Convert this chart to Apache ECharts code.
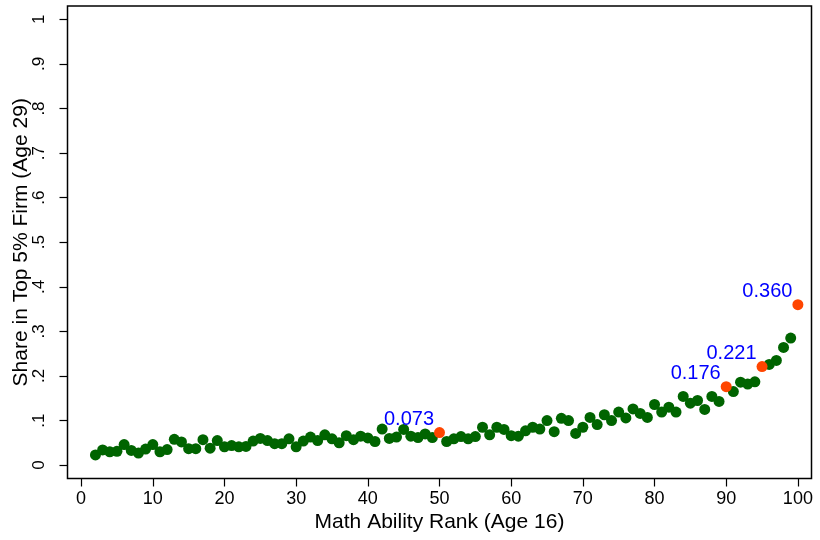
<!DOCTYPE html>
<html>

<head>
    <meta charset="utf-8">
    <title>Share in Top 5% Firm by Math Ability Rank</title>
    <style>
        html, body { margin: 0; padding: 0; background: #fff; }
        #chart-container {
            width: 820px;
            height: 540px;
        }
    </style>
    <script src="https://cdn.jsdelivr.net/npm/echarts@6/dist/echarts.min.js"></script>
</head>

<body>
    <div id="chart-container"></div>
    <script>
        // math ability rank (age 16), one dot per rank
        const ranks = [
            2, 3, 4, 5, 6, 7, 8, 9, 10, 11, 12, 13, 14, 15, 16, 17, 18, 19, 20, 21,
            22, 23, 24, 25, 26, 27, 28, 29, 30, 31, 32, 33, 34, 35, 36, 37, 38, 39, 40, 41,
            42, 43, 44, 45, 46, 47, 48, 49, 50, 51, 52, 53, 54, 55, 56, 57, 58, 59, 60, 61,
            62, 63, 64, 65, 66, 67, 68, 69, 70, 71, 72, 73, 74, 75, 76, 77, 78, 79, 80, 81,
            82, 83, 84, 85, 86, 87, 88, 89, 90, 91, 92, 93, 94, 95, 96, 97, 98, 99, 100
        ];
        // share working in a top 5% firm at age 29
        const shares = [
            0.023, 0.034, 0.030, 0.031, 0.046, 0.033, 0.027, 0.036, 0.046, 0.030,
            0.035, 0.058, 0.052, 0.037, 0.037, 0.057, 0.038, 0.055, 0.041, 0.044,
            0.041, 0.042, 0.054, 0.060, 0.055, 0.048, 0.048, 0.059, 0.041, 0.054,
            0.063, 0.055, 0.068, 0.059, 0.050, 0.066, 0.057, 0.065, 0.061, 0.053,
            0.081, 0.060, 0.063, 0.080, 0.065, 0.062, 0.070, 0.062, 0.073, 0.053,
            0.059, 0.064, 0.059, 0.064, 0.085, 0.068, 0.085, 0.080, 0.066, 0.065,
            0.077, 0.085, 0.081, 0.100, 0.075, 0.105, 0.100, 0.071, 0.085, 0.107,
            0.091, 0.113, 0.100, 0.119, 0.106, 0.126, 0.116, 0.107, 0.136, 0.119,
            0.130, 0.119, 0.154, 0.139, 0.145, 0.125, 0.154, 0.143, 0.176, 0.165,
            0.186, 0.182, 0.187, 0.221, 0.226, 0.235, 0.264, 0.285, 0.360
        ];
        // ranks marked in orange with their value written next to them
        const highlightRanks = [50, 90, 95, 100];

        const xTicks = [0, 10, 20, 30, 40, 50, 60, 70, 80, 90, 100];
        const yTicks = [0, 0.1, 0.2, 0.3, 0.4, 0.5, 0.6, 0.7, 0.8, 0.9, 1];

        const baseData = [];
        const highData = [];
        for (let i = 0; i < ranks.length; i++) {
            if (highlightRanks.includes(ranks[i])) {
                highData.push([ranks[i], shares[i]]);
            } else {
                baseData.push([ranks[i], shares[i]]);
            }
        }

        var dom = document.getElementById('chart-container');
        var myChart = echarts.init(dom, null, { renderer: 'canvas' });

        const font = 'Liberation Sans, Arial, Helvetica, sans-serif';

        var option = {
            animation: false,
            backgroundColor: '#ffffff',
            grid: {
                left: 67.5,
                right: 8.5,
                top: 6,
                bottom: 61.5,
                outerBoundsMode: 'none',
                containLabel: false,
                show: true,
                borderColor: '#000',
                borderWidth: 1.5,
                backgroundColor: '#fff'
            },
            xAxis: {
                type: 'value',
                min: -1.9,
                max: 101.9,
                name: 'Math Ability Rank (Age 16)',
                nameLocation: 'middle',
                nameGap: 33,
                nameMoveOverlap: false,
                nameTextStyle: { color: '#000', fontSize: 21, fontFamily: font },
                splitLine: { show: false },
                axisLine: { show: false, onZero: false },
                axisTick: {
                    show: true,
                    inside: false,
                    customValues: xTicks,
                    length: 8,
                    lineStyle: { color: '#000', width: 1.2 }
                },
                axisLabel: {
                    customValues: xTicks,
                    color: '#000',
                    fontSize: 18,
                    fontFamily: font,
                    margin: 12
                }
            },
            yAxis: {
                type: 'value',
                min: -0.03,
                max: 1.03,
                name: 'Share in Top 5% Firm (Age 29)',
                nameLocation: 'middle',
                nameRotate: 90,
                nameGap: 36,
                nameMoveOverlap: false,
                nameTextStyle: { color: '#000', fontSize: 21, fontFamily: font },
                splitLine: { show: false },
                axisLine: { show: false, onZero: false },
                axisTick: {
                    show: true,
                    inside: false,
                    customValues: yTicks,
                    length: 8,
                    lineStyle: { color: '#000', width: 1.2 }
                },
                axisLabel: {
                    customValues: yTicks,
                    rotate: 90,
                    color: '#000',
                    fontSize: 17,
                    fontFamily: font,
                    margin: 20,
                    formatter: function (v) {
                        if (Math.abs(v) < 1e-9) return '0';
                        if (Math.abs(v - 1) < 1e-9) return '1';
                        return '.' + Math.round(v * 10);
                    }
                }
            },
            series: [
                {
                    name: 'rank',
                    type: 'scatter',
                    data: baseData,
                    symbolSize: 11,
                    itemStyle: { color: '#006400', opacity: 1 },
                    z: 2
                },
                {
                    name: 'highlight',
                    type: 'scatter',
                    data: highData,
                    symbolSize: 11,
                    itemStyle: { color: '#ff4500', opacity: 1 },
                    label: {
                        show: true,
                        position: [0, -8],
                        align: 'right',
                        verticalAlign: 'middle',
                        color: '#0000ff',
                        fontSize: 20,
                        fontFamily: font,
                        formatter: function (p) {
                            return p.value[1].toFixed(3);
                        }
                    },
                    z: 3
                }
            ]
        };

        if (option && typeof option === 'object') {
            myChart.setOption(option);
        }

        window.addEventListener('resize', myChart.resize);
    </script>
</body>

</html>
